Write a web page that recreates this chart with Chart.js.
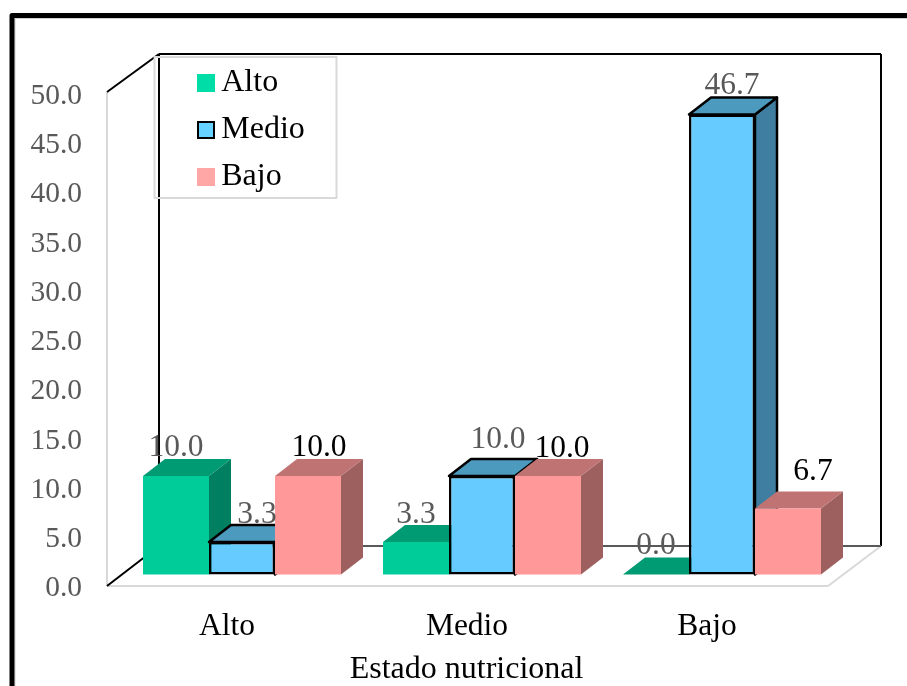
<!DOCTYPE html>
<html lang="es">
<head>
<meta charset="utf-8">
<title>Estado nutricional</title>
<script src="https://cdn.jsdelivr.net/npm/chart.js@4/dist/chart.umd.js"></script>
<style>
  html, body { margin: 0; padding: 0; background: #fff; overflow: hidden; }
  #wrap { width: 907px; height: 686px; }
</style>
</head>
<body>
<div id="wrap"><canvas id="c" width="907" height="686"></canvas></div>
<script>
// Values
const categories = ['Alto', 'Medio', 'Bajo'];
const alto = [10.0, 3.3, 0.0];
const medio = [3.3, 10.0, 46.7];
const bajo = [10.0, 10.0, 6.7];
const yTickValues = [0, 5, 10, 15, 20, 25, 30, 35, 40, 45, 50];
const axisTitle = 'Estado nutricional';

// Look of each series: front, top and side faces
const FONT = '"Liberation Serif", "Times New Roman", serif';
const GREY_TEXT = '#595959';
const looks = [
  { front: '#00CC99', top: '#009A73', side: '#008060', swatch: '#00DDA6', edge: null, labelColor: GREY_TEXT },
  { front: '#66CCFF', top: '#4D9ABF', side: '#3F7EA0', swatch: '#66D2FF', edge: '#000', labelColor: GREY_TEXT },
  { front: '#FF9999', top: '#BF7373', side: '#9E5F5F', swatch: '#FFA6A6', edge: null, labelColor: '#000' }
];

// Depth of the extruded bars, in pixels
const DEPTH_X = 22;
const DEPTH_Y = -17;

// Value label offsets from the front-top centre of each bar [series][category]
const labelNudge = [
  [[0, -28], [0, -27], [0, -29]],
  [[15, -27], [16, -36], [10, -29]],
  [[11, -28], [14, -27], [25, -37]]
];

// Legend marker; the blank strip on the left keeps the label close to the square
function swatch(look) {
  const cv = document.createElement('canvas');
  cv.width = 20; cv.height = 18;
  const g = cv.getContext('2d');
  g.fillStyle = look.swatch;
  g.fillRect(2, 0, 18, 18);
  if (look.edge) {
    g.strokeStyle = look.edge;
    g.lineWidth = 2;
    g.strokeRect(3, 1, 16, 16);
  }
  return cv;
}

function poly(ctx, pts, fill, edge) {
  ctx.beginPath();
  pts.forEach((p, i) => i ? ctx.lineTo(p[0], p[1]) : ctx.moveTo(p[0], p[1]));
  ctx.closePath();
  ctx.fillStyle = fill;
  ctx.fill();
  if (edge) {
    ctx.strokeStyle = edge;
    ctx.lineWidth = 2.5;
    ctx.lineJoin = 'round';
    ctx.stroke();
  }
}

function seg(ctx, x1, y1, x2, y2, color, width) {
  ctx.beginPath();
  ctx.moveTo(x1, y1);
  ctx.lineTo(x2, y2);
  ctx.strokeStyle = color;
  ctx.lineWidth = width;
  ctx.stroke();
}

// Outer frame, cut off by the page on the right and at the bottom
const framePlugin = {
  id: 'frame',
  beforeDraw(chart) {
    const ctx = chart.ctx;
    ctx.save();
    ctx.fillStyle = '#fff';
    ctx.fillRect(0, 0, chart.width, chart.height);
    ctx.strokeStyle = '#d0d0d0';
    ctx.lineWidth = 1;
    ctx.beginPath();
    ctx.moveTo(15, chart.height);
    ctx.lineTo(15, 18.5);
    ctx.lineTo(chart.width, 18.5);
    ctx.stroke();
    ctx.strokeStyle = '#000';
    ctx.lineWidth = 5;
    ctx.lineJoin = 'round';
    ctx.beginPath();
    ctx.moveTo(12, chart.height + 5);
    ctx.lineTo(12, 15.5);
    ctx.lineTo(chart.width + 5, 15.5);
    ctx.stroke();

    // Floor and walls of the 3D box
    const wl = 159, wr = 881, wt = 54, wb = 546;
    const fl = 107, fr = 828, fb = 586, st = 92;
    seg(ctx, fl, st, fl, fb, '#d9d9d9', 2);
    seg(ctx, fl, fb, fr, fb, '#d9d9d9', 2);
    seg(ctx, fr, fb, wr, wb, '#d9d9d9', 2);
    seg(ctx, fl, st, wl, wt, '#000', 2);
    seg(ctx, fl, fb, wl, wb, '#000', 2);
    seg(ctx, wl, wt, wl, wb, '#000', 2);
    seg(ctx, wl, wt, wr, wt, '#000', 2);
    seg(ctx, wr, wt, wr, wb, '#000', 2);
    seg(ctx, wl, wb, wr, wb, '#595959', 2);

    // Legend box
    ctx.strokeStyle = '#d9d9d9';
    ctx.lineWidth = 2;
    ctx.strokeRect(154.5, 57, 182, 141);
    ctx.restore();
  }
};

// Legend placement inside the plot; the series are painted left to right,
// each with its top and side faces, then the value labels on top
const extrudePlugin = {
  id: 'extrude',
  afterLayout(chart) {
    const lg = chart.legend;
    lg.left = 189.75;
    lg.right = 337;
    lg.top = 52;
    lg.bottom = 400;
  },
  beforeDatasetsDraw(chart) {
    const ctx = chart.ctx;
    const base = chart.scales.y.getPixelForValue(0);
    chart.data.datasets.forEach((ds, s) => {
      const meta = chart.getDatasetMeta(s);
      const look = looks[s];
      ctx.save();
      meta.data.forEach(bar => {
        const l = bar.x - bar.width / 2;
        const r = bar.x + bar.width / 2;
        const t = bar.y;
        poly(ctx, [[r, t], [r + DEPTH_X, t + DEPTH_Y], [r + DEPTH_X, base + DEPTH_Y], [r, base]], look.side, look.edge);
        poly(ctx, [[l, t], [l + DEPTH_X, t + DEPTH_Y], [r + DEPTH_X, t + DEPTH_Y], [r, t]], look.top, look.edge);
      });
      ctx.restore();
      meta.controller.draw();
    });

    ctx.save();
    ctx.font = '31.5px ' + FONT;
    ctx.textAlign = 'center';
    ctx.textBaseline = 'middle';
    chart.data.datasets.forEach((ds, s) => {
      chart.getDatasetMeta(s).data.forEach((bar, c) => {
        const [dx, dy] = labelNudge[s][c];
        ctx.fillStyle = looks[s].labelColor;
        ctx.fillText(ds.data[c].toFixed(1), bar.x + dx, bar.y + dy);
      });
    });
    ctx.fillStyle = '#000';
    ctx.font = '32px ' + FONT;
    ctx.fillText(axisTitle, 466.5, 670);
    ctx.restore();
    return false;
  }
};

const seriesNames = ['Alto', 'Medio', 'Bajo'];
const seriesValues = [alto, medio, bajo];

new Chart(document.getElementById('c'), {
  type: 'bar',
  data: {
    labels: categories,
    datasets: seriesNames.map((name, i) => ({
      label: name,
      data: seriesValues[i],
      backgroundColor: looks[i].front,
      borderColor: looks[i].edge || looks[i].front,
      borderWidth: looks[i].edge ? 2.5 : 0,
      borderSkipped: false
    }))
  },
  plugins: [framePlugin, extrudePlugin],
  options: {
    responsive: false,
    animation: false,
    events: [],
    layout: { autoPadding: false, padding: { left: 0, right: 65, top: 82, bottom: 0 } },
    datasets: { bar: { barPercentage: 1, categoryPercentage: 0.825 } },
    plugins: {
      title: { display: false },
      tooltip: { enabled: false },
      legend: {
        position: 'chartArea',
        align: 'start',
        labels: {
          usePointStyle: true,
          boxWidth: 0.5,
          boxHeight: 18,
          padding: 15,
          color: '#000',
          font: { family: FONT, size: 32 },
          generateLabels: () => seriesNames.map((name, i) => ({
            text: name,
            pointStyle: swatch(looks[i]),
            datasetIndex: i,
            lineWidth: 0,
            hidden: false,
            fontColor: '#000'
          }))
        }
      }
    },
    scales: {
      x: {
        type: 'category',
        grid: { display: false, drawTicks: false },
        border: { display: false },
        afterFit: s => { s.height = 111.5; },
        ticks: {
          color: '#000',
          padding: 33,
          labelOffset: -15,
          maxRotation: 0,
          font: { family: FONT, size: 31.5 }
        }
      },
      y: {
        min: 0,
        max: 50,
        grid: { display: false, drawTicks: false },
        border: { display: false },
        afterFit: s => { s.width = 122; },
        afterBuildTicks: s => { s.ticks = yTickValues.map(v => ({ value: v })); },
        ticks: {
          color: GREY_TEXT,
          padding: 40,
          labelOffset: 14,
          font: { family: FONT, size: 29.5 },
          callback: v => Number(v).toFixed(1)
        }
      }
    }
  }
});
</script>
</body>
</html>
